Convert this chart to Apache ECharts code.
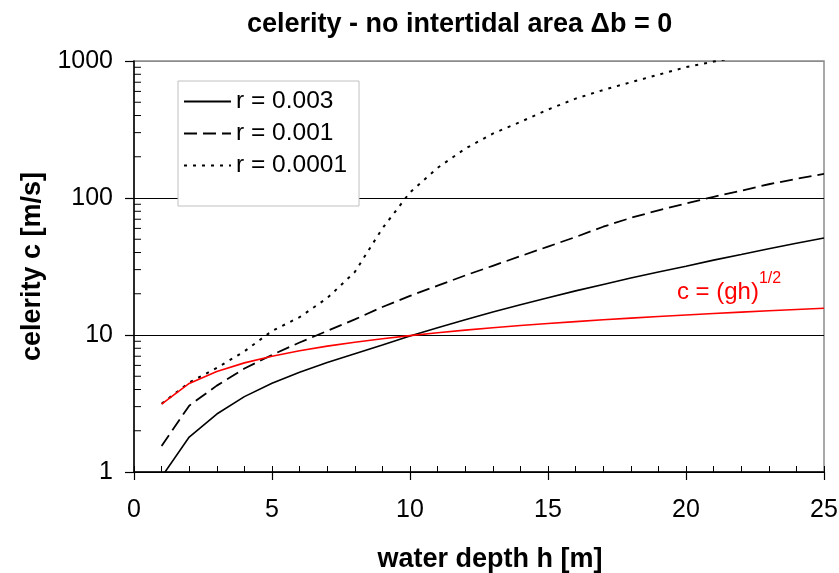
<!DOCTYPE html>
<html><head><meta charset="utf-8">
<script src="https://cdn.jsdelivr.net/npm/echarts@6/dist/echarts.min.js"></script>
<style>html,body{margin:0;padding:0;background:#fff}#c{width:839px;height:573px}</style>
</head><body><div id="c"></div>
<script>
// water depth h [m]
const depth = [1,2,3,4,5,6,7,8,9,10,11,12,13,14,15,16,17,18,19,20,21,22,23,24,25];
// celerity c [m/s]
const r003  = [0.92,1.8,2.65,3.55,4.45,5.35,6.3,7.3,8.45,9.84,11.3,12.9,14.7,16.6,18.7,21.0,23.4,26.1,28.8,31.8,35.2,38.7,42.6,46.7,51.0];
const r001  = [1.55,3.05,4.27,5.69,7.16,8.81,10.7,13.0,16.0,19.3,22.9,27.2,32.0,37.6,44.2,51.9,61.7,71.6,81.3,91.2,102,113,126,138,150];
const r0001 = [3.15,4.5,5.75,7.6,10.7,13.5,18.6,28.8,60,110,166,229,295,359,442,531,614,700,794,902,990,1084,1189,1288,1396];
const shallow = [3.13,4.43,5.42,6.26,7.0,7.67,8.29,8.86,9.4,9.9,10.39,10.85,11.29,11.72,12.13,12.53,12.91,13.29,13.65,14.01,14.35,14.69,15.02,15.34,15.66];
const seriesNames = ['r = 0.003','r = 0.001','r = 0.0001'];
const yMinorTicks = [2,3,4,5,6,7,8,9,20,30,40,50,60,70,80,90,200,300,400,500,600,700,800,900];
const shallowLabelAt = [19.67, 20.3];

const FONT = '"Liberation Sans", Arial, Helvetica, sans-serif';
const pairs = ys => depth.map((h,i)=>[h, ys[i]]);
const chart = echarts.init(document.getElementById('c'), null, {renderer:'canvas'});

const option = {
  animation: false,
  backgroundColor: '#fff',
  title: {
    text: 'celerity - no intertidal area \u0394b = 0',
    left: 247, top: 11, padding: 0,
    textStyle: {fontFamily: FONT, fontSize: 27, fontWeight: 'bold', color: '#000'}
  },
  grid: {left: 134, right: 15, top: 61, bottom: 101, outerBoundsMode: 'none', containLabel: false,
         show: true, borderColor: '#8c8c8c', borderWidth: 1.5, backgroundColor: 'transparent'},
  legend: {
    data: seriesNames,
    orient: 'vertical', left: 178, top: 81,
    backgroundColor: '#fff', borderColor: '#c0c0c0', borderWidth: 1,
    padding: [8, 12, 28, 5],
    itemWidth: 47, itemHeight: 14, itemGap: 7,
    itemStyle: {opacity: 0},
    textStyle: {fontFamily: FONT, fontSize: 24.5, color: '#000', lineHeight: 24}
  },
  xAxis: [{
    type: 'value', min: 0, max: 25, interval: 5, position: 'bottom',
    axisLine: {lineStyle: {color: '#000', width: 1.5}},
    axisTick: {inside: false, length: 8, lineStyle: {color: '#000', width: 1.2}},
    axisLabel: {fontFamily: FONT, fontSize: 25, color: '#000', margin: 26},
    splitLine: {show: false},
    name: 'water depth h [m]', nameLocation: 'middle', nameGap: 74,
    nameTextStyle: {fontFamily: FONT, fontSize: 27, fontWeight: 'bold', color: '#000', padding: [0,0,0,22]}
  }, {
    type: 'value', min: 0, max: 25, interval: 1, position: 'bottom',
    axisLine: {show: false},
    axisTick: {inside: true, length: 6, lineStyle: {color: '#000', width: 1}},
    axisLabel: {show: false}, splitLine: {show: false}
  }],
  yAxis: {
    type: 'log', logBase: 10, min: 1, max: 1000,
    axisLine: {show: true, lineStyle: {color: '#000', width: 1.5}},
    axisTick: {show: true, inside: false, length: 9, lineStyle: {color: '#000', width: 1.2}},
    axisLabel: {fontFamily: FONT, fontSize: 25, color: '#000', margin: 21, formatter: v => String(v)},
    splitLine: {show: true, lineStyle: {color: ['#000','#000','#000','#8c8c8c'], width: 1}},
    name: 'celerity c [m/s]', nameLocation: 'middle', nameGap: 88,
    nameTextStyle: {fontFamily: FONT, fontSize: 27, fontWeight: 'bold', color: '#000'}
  },
  series: [
    {name: seriesNames[0], type: 'line', data: pairs(r003), symbol: 'none', clip: true,
     lineStyle: {color: '#000', width: 1.6, type: 'solid'}, itemStyle: {color: '#000'}},
    {name: seriesNames[1], type: 'line', data: pairs(r001), symbol: 'none', clip: true,
     lineStyle: {color: '#000', width: 1.8, type: [13, 6]}, itemStyle: {color: '#000'}},
    {name: seriesNames[2], type: 'line', data: pairs(r0001), symbol: 'none', clip: true,
     lineStyle: {color: '#000', width: 2, type: [3, 6]}, itemStyle: {color: '#000'}},
    {name: 'c = (gh)^1/2', type: 'line', data: pairs(shallow), symbol: 'none', clip: true,
     lineStyle: {color: '#ff0000', width: 1.6}, itemStyle: {color: '#ff0000'},
     markPoint: {
       symbol: 'circle', symbolSize: 0, silent: true,
       label: {show: true, position: 'right', distance: 0,
         formatter: '{a|c = (gh)}{b|1/2}',
         rich: {
           a: {fontFamily: FONT, fontSize: 24, color: '#ff0000', lineHeight: 44},
           b: {fontFamily: FONT, fontSize: 16, color: '#ff0000', lineHeight: 16, verticalAlign: 'top'}
         }},
       data: [{coord: shallowLabelAt}]
     }},
    {type: 'custom', coordinateSystem: 'cartesian2d', silent: true, clip: false,
     data: yMinorTicks.map(v => [0, v]),
     renderItem: (params, api) => {
       const p = api.coord([0, api.value(1)]);
       return {type: 'line', shape: {x1: p[0], y1: p[1], x2: p[0] + 7, y2: p[1]}, style: {stroke: '#000', lineWidth: 1}};
     }}
  ]
};
chart.setOption(option);
</script></body></html>
